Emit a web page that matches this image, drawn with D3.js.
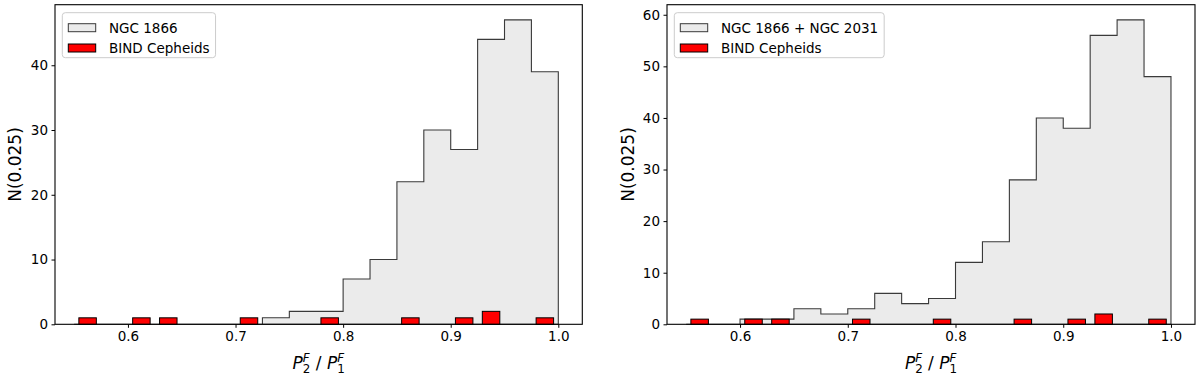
<!DOCTYPE html>
<html>
<head>
<meta charset="utf-8">
<script src="https://cdn.jsdelivr.net/npm/d3@7"></script>
<style>
  body { margin: 0; background: #fff; }
  svg { font-family: "DejaVu Sans", sans-serif; }
</style>
</head>
<body>
<div id="chart"></div>
<script>
const w = 1200;
const h = 384;

// histogram bin edges, width 0.025
const binEdges = [0.55, 0.575, 0.6, 0.625, 0.65, 0.675, 0.7, 0.725, 0.75, 0.775,
  0.8, 0.825, 0.85, 0.875, 0.9, 0.925, 0.95, 0.975, 1.0];

// counts per bin
const ngc1866 = [0, 0, 0, 0, 0, 0, 0, 1, 2, 2, 7, 10, 22, 30, 27, 44, 47, 39];
const ngc1866_2031 = [0, 0, 1, 1, 3, 2, 3, 6, 4, 5, 12, 16, 28, 40, 38, 56, 59, 48];
const bindCepheids = [1, 0, 1, 1, 0, 0, 1, 0, 0, 1, 0, 0, 1, 0, 1, 2, 0, 1];

const xTicks = [0.6, 0.7, 0.8, 0.9, 1.0];
const yTicksLeft = [0, 10, 20, 30, 40];
const yTicksRight = [0, 10, 20, 30, 40, 50, 60];

const grayLabelLeft = "NGC 1866";
const grayLabelRight = "NGC 1866 + NGC 2031";
const redLabel = "BIND Cepheids";

const tickFont = 13.5;
const labelFont = 17;

const svg = d3.select("#chart").append("svg").attr("width", w).attr("height", h);

const drawPanel = (opt) => {
  const g = svg.append("g");
  const x = d3.scaleLinear().domain([0.5322, 1.0223]).range([opt.left, opt.right]);
  const yMax = d3.max(opt.gray) * 1.05;
  const y = d3.scaleLinear().domain([0, yMax]).range([opt.bottom, opt.top]);

  // gray step histogram
  const pts = [[binEdges[0], 0]];
  opt.gray.forEach((c, i) => pts.push([binEdges[i], c]));
  pts.push([binEdges[binEdges.length - 1], opt.gray[opt.gray.length - 1]]);
  pts.push([binEdges[binEdges.length - 1], 0]);
  const line = d3.line().x((d) => x(d[0])).y((d) => y(d[1])).curve(d3.curveStepAfter);
  g.append("path")
    .attr("d", line(pts) + "Z")
    .attr("fill", "#ebebeb")
    .attr("stroke", "#3a3a3a")
    .attr("stroke-width", 1.1);

  // red bars (rwidth ~0.65)
  const barW = 0.025 * 0.65;
  g.selectAll("rect.bar")
    .data(bindCepheids)
    .enter()
    .append("rect")
    .attr("class", "bar")
    .attr("x", (d, i) => x((binEdges[i] + binEdges[i + 1]) / 2 - barW / 2))
    .attr("y", (d) => y(d))
    .attr("width", x(barW) - x(0))
    .attr("height", (d) => y(0) - y(d))
    .attr("fill", "#ff0000")
    .attr("stroke", "#000")
    .attr("stroke-width", 1);

  // axes
  const xAxis = d3.axisBottom(x).tickValues(xTicks).tickSize(3.5).tickPadding(3.5)
    .tickFormat(d3.format(".1f"));
  const yAxis = d3.axisLeft(y).tickValues(opt.yTicks).tickSize(3.5).tickPadding(3.5)
    .tickFormat(d3.format("d"));

  const gx = g.append("g")
    .attr("transform", `translate(0, ${opt.bottom})`)
    .call(xAxis);
  const gy = g.append("g")
    .attr("transform", `translate(${opt.left}, 0)`)
    .call(yAxis);
  [gx, gy].forEach((a) => {
    a.select(".domain").remove();
    a.selectAll("text").attr("font-size", tickFont).attr("fill", "#000")
      .attr("font-family", "DejaVu Sans");
    a.selectAll("line").attr("stroke", "#000").attr("stroke-width", 1);
  });

  // frame
  g.append("rect")
    .attr("x", opt.left)
    .attr("y", opt.top)
    .attr("width", opt.right - opt.left)
    .attr("height", opt.bottom - opt.top)
    .attr("fill", "none")
    .attr("stroke", "#000")
    .attr("stroke-width", 1.1);

  // y label
  g.append("text")
    .attr("transform", `translate(${opt.ylabelX}, ${(opt.top + opt.bottom) / 2}) rotate(-90)`)
    .attr("text-anchor", "middle")
    .attr("font-size", labelFont)
    .text("N(0.025)");

  // x label: P_2^F / P_1^F, one text with tspans
  const small = labelFont * 0.7;
  const xl = g.append("text")
    .attr("x", (opt.left + opt.right) / 2)
    .attr("y", 369)
    .attr("text-anchor", "middle")
    .attr("font-size", labelFont);
  const fW = 0.575 * small;
  const addScripts = (sub) => {
    xl.append("tspan").attr("font-size", small).attr("font-style", "italic")
      .attr("dy", -7.5).text("F");
    xl.append("tspan").attr("font-size", small)
      .attr("dx", -fW).attr("dy", 11.5).text(sub);
  };
  xl.append("tspan").attr("font-style", "italic").text("P");
  addScripts("2");
  xl.append("tspan").attr("dy", -4).text("\u00a0/\u00a0");
  xl.append("tspan").attr("font-style", "italic").text("P");
  addScripts("1");

  // legend
  const lg = g.append("g");
  const lx = opt.left + 7.3;
  const ly = opt.top + 8;
  const box = lg.append("rect")
    .attr("x", lx)
    .attr("y", ly)
    .attr("height", 45)
    .attr("rx", 3)
    .attr("fill", "#fff")
    .attr("fill-opacity", 0.8)
    .attr("stroke", "#cccccc")
    .attr("stroke-width", 1);
  const entries = [
    { label: opt.grayLabel, fill: "#ebebeb", stroke: "#3a3a3a" },
    { label: redLabel, fill: "#ff0000", stroke: "#000" },
  ];
  let maxW = 0;
  entries.forEach((e, i) => {
    const cy = ly + 15 + i * 20.3;
    lg.append("rect")
      .attr("x", lx + 6)
      .attr("y", cy - 4)
      .attr("width", 27.4)
      .attr("height", 8)
      .attr("fill", e.fill)
      .attr("stroke", e.stroke)
      .attr("stroke-width", 1);
    const t = lg.append("text")
      .attr("x", lx + 46.7)
      .attr("y", cy + 5)
      .attr("font-size", tickFont)
      .text(e.label);
    maxW = Math.max(maxW, t.node().getComputedTextLength());
  });
  box.attr("width", 46.7 + maxW + 6);
};

drawPanel({
  left: 55, right: 582.3, top: 4.7, bottom: 324.3,
  gray: ngc1866, yTicks: yTicksLeft, grayLabel: grayLabelLeft, ylabelX: 21,
});
drawPanel({
  left: 667, right: 1195, top: 4.7, bottom: 324.3,
  gray: ngc1866_2031, yTicks: yTicksRight, grayLabel: grayLabelRight, ylabelX: 634,
});
</script>
</body>
</html>
